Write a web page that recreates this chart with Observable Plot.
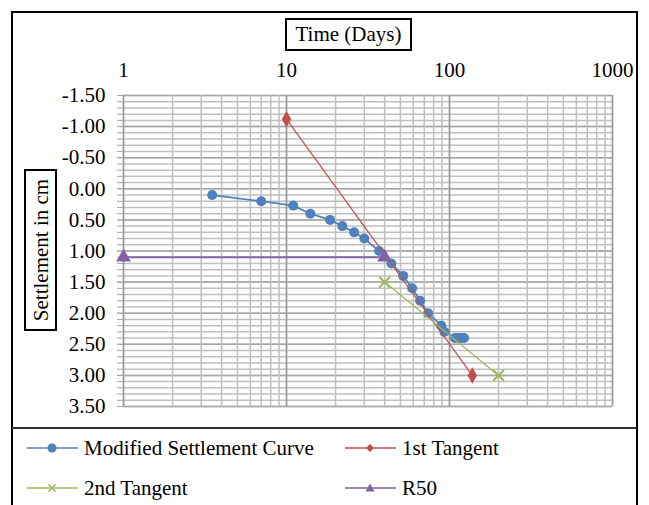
<!DOCTYPE html>
<html>
<head>
<meta charset="utf-8">
<script src="https://cdn.jsdelivr.net/npm/d3@7"></script>
<script src="https://cdn.jsdelivr.net/npm/@observablehq/plot@0.6"></script>
<style>
  html, body { margin: 0; padding: 0; background: #fff; overflow: hidden; }
  #wrap { position: relative; width: 649px; height: 505px; overflow: hidden; font-family: "Liberation Serif", "Times New Roman", serif; color: #000; }
  #chart { position: absolute; left: 0; top: 0; }
  #chart svg, #chart svg text { font-family: "Liberation Serif", "Times New Roman", serif !important; }
  .abs { position: absolute; box-sizing: border-box; }
  .leg { position: absolute; display: flex; align-items: center; font-size: 21px; white-space: nowrap; }
  .leg svg { margin-right: 6px; }
</style>
</head>
<body>
<div id="wrap">
  <div id="chart"></div>
  <div class="abs" style="left:11px;top:11px;width:627px;height:520px;border:2px solid #000;"></div>
  <div class="abs" style="left:12px;top:427px;width:625px;height:2px;background:#333;"></div>
  <div class="abs" style="left:285px;top:18px;width:127px;height:33px;border:2px solid #000;background:#fff;font-size:21px;line-height:29px;text-align:center;">Time (Days)</div>
  <div class="abs" style="left:24px;top:169px;width:33px;height:162px;border:2px solid #000;background:#fff;">
    <div style="position:absolute;left:50%;top:50%;transform:translate(-50%,-50%) rotate(-90deg);font-size:21px;white-space:nowrap;">Settlement in cm</div>
  </div>
  <div id="legend"></div>
</div>
<script>
// ---- data ----
const curveDays = [3.5, 7, 11, 14, 18.5, 22, 26, 30, 37, 44, 52, 59, 66, 74, 89, 93, 108, 113, 118, 123];
const curveSettlement = [0.1, 0.2, 0.27, 0.4, 0.5, 0.6, 0.7, 0.8, 1.0, 1.2, 1.4, 1.6, 1.8, 2.0, 2.2, 2.3, 2.4, 2.4, 2.4, 2.4];
const tangent1Days = [10, 138];
const tangent1Settlement = [-1.12, 3.0];
const tangent2Days = [40, 200];
const tangent2Settlement = [1.5, 3.0];
const r50Days = [1, 40];
const r50Settlement = [1.1, 1.1];
const xTickValues = [1, 10, 100, 1000];
const yTickValues = [-1.5, -1.0, -0.5, 0, 0.5, 1.0, 1.5, 2.0, 2.5, 3.0, 3.5];
const seriesNames = ["Modified Settlement Curve", "1st Tangent", "2nd Tangent", "R50"];
const seriesColors = ["#4F81BD", "#C0504D", "#9BBB59", "#8064A2"];

const toRows = (xs, ys) => xs.map((x, i) => ({x, y: ys[i]}));
const curve = toRows(curveDays, curveSettlement);
const t1 = toRows(tangent1Days, tangent1Settlement);
const t2 = toRows(tangent2Days, tangent2Settlement);
const r50 = toRows(r50Days, r50Settlement);

// gridline positions
const xGrid = [];
for (const p of [1, 10, 100]) for (let k = 1; k <= 9; k++) xGrid.push(k * p);
xGrid.push(1000);
const xMajor = [1, 10, 100, 1000];
const yMinor = d3.range(-15, 36).map(d => d / 10);
const serif = "'Liberation Serif', 'Times New Roman', serif";

const plot = Plot.plot({
  width: 649,
  height: 505,
  marginLeft: 123,
  marginRight: 37,
  marginTop: 95,
  marginBottom: 99,
  style: {fontFamily: serif, fontSize: "21px", background: "transparent", color: "#000"},
  x: {type: "log", domain: [1, 1000]},
  y: {domain: [-1.5, 3.5], reverse: true},
  marks: [
    Plot.ruleY(yMinor, {stroke: "#bfbfbf", strokeWidth: 1.5}),
    Plot.ruleY(yTickValues, {stroke: "#a6a6a6", strokeWidth: 1.5}),
    Plot.ruleX(xGrid, {stroke: "#bfbfbf", strokeWidth: 1.5}),
    Plot.ruleX(xMajor, {stroke: "#999", strokeWidth: 1.5}),
    Plot.axisY(yMinor, {tickSize: 6, tickFormat: () => "", label: null, stroke: "#a6a6a6"}),
    Plot.axisY({ticks: yTickValues, tickSize: 6, tickPadding: 12, tickFormat: d => d.toFixed(2), label: null, stroke: "#a6a6a6", fontSize: 21, fontFamily: serif}),
    Plot.axisX({anchor: "top", ticks: xTickValues, tickSize: 0, tickPadding: 19, tickFormat: d => String(d), label: null, fontSize: 21, fontFamily: serif}),
    Plot.line(curve, {x: "x", y: "y", stroke: seriesColors[0], strokeWidth: 1.75}),
    Plot.dot(curve, {x: "x", y: "y", fill: seriesColors[0], r: 5}),
    Plot.line(t1, {x: "x", y: "y", stroke: seriesColors[1], strokeWidth: 1.25}),
    Plot.dot(t1, {x: "x", y: "y", fill: seriesColors[1], symbol: "diamond", r: 5}),
    Plot.line(t2, {x: "x", y: "y", stroke: seriesColors[2], strokeWidth: 1.25}),
    Plot.dot(t2, {x: "x", y: "y", stroke: seriesColors[2], symbol: "times", r: 5, strokeWidth: 2}),
    Plot.line(r50, {x: "x", y: "y", stroke: seriesColors[3], strokeWidth: 2}),
    Plot.dot(r50, {x: "x", y: "y", fill: seriesColors[3], symbol: "triangle", r: 5.5})
  ]
});
document.getElementById("chart").appendChild(plot);

// legend
const markerSvg = (i) => {
  const c = seriesColors[i];
  let m = "";
  if (i === 0) m = `<circle cx="25" cy="8" r="4.5" fill="${c}"/>`;
  if (i === 1) m = `<path d="M25 4 L29 8 L25 12 L21 8 Z" fill="${c}"/>`;
  if (i === 2) m = `<path d="M21.5 4.5 L28.5 11.5 M28.5 4.5 L21.5 11.5" stroke="${c}" stroke-width="1.6"/>`;
  if (i === 3) m = `<path d="M25 3.5 L29.5 11.5 L20.5 11.5 Z" fill="${c}"/>`;
  return `<svg width="51" height="16"><line x1="0" y1="8" x2="51" y2="8" stroke="${c}" stroke-width="1.5"/>${m}</svg>`;
};
const legPos = [[27, 448], [345, 448], [27, 488], [345, 488]];
const leg = document.getElementById("legend");
seriesNames.forEach((name, i) => {
  const d = document.createElement("div");
  d.className = "leg";
  d.style.left = legPos[i][0] + "px";
  d.style.top = (legPos[i][1] - 13) + "px";
  d.style.height = "26px";
  d.innerHTML = markerSvg(i) + `<span>${name}</span>`;
  leg.appendChild(d);
});
</script>
</body>
</html>
